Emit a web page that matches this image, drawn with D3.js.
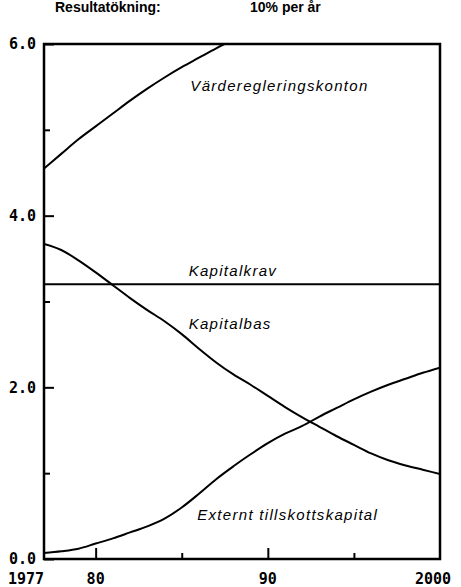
<!DOCTYPE html>
<html lang="sv">
<head>
<meta charset="UTF-8">
<title>Resultatökning 10% per år</title>
<script src="https://d3js.org/d3.v7.min.js"></script>
<style>
    body { margin: 0; background: #fff; }
    svg { display: block; }
</style>
</head>
<body>
<svg width="461" height="587"></svg>
<script>
    // Data (Mkr, 1977-2000)
    var years = d3.range(1977, 2001);
    var vardereglering = [4.55, 4.72, 4.89, 5.04, 5.19, 5.34, 5.48, 5.61, 5.73, 5.84, 5.95, 6.05];
    var kapitalkrav = [3.2, 3.2];
    var kapitalbas = [3.67, 3.60, 3.48, 3.34, 3.19, 3.04, 2.90, 2.77, 2.62, 2.45, 2.29, 2.15,
                      2.03, 1.90, 1.77, 1.65, 1.54, 1.43, 1.33, 1.23, 1.15, 1.09, 1.04, 0.99];
    var externt = [0.07, 0.09, 0.12, 0.18, 0.24, 0.31, 0.38, 0.47, 0.60, 0.76, 0.93, 1.08,
                   1.22, 1.35, 1.46, 1.55, 1.66, 1.76, 1.86, 1.95, 2.03, 2.10, 2.17, 2.23];
    var yMajor = [0, 2, 4, 6];
    var yMinor = [1, 3, 5];
    var xLong = [1980, 1990];
    var xShort = [1985, 1995];
    var xTickYears = [1977, 1980, 1990, 2000];
    var xTickLabels = ["1977", "80", "90", "2000"];

    var svg = d3.select("svg");
    // plot box (window.top is reserved, so not "top")
    var plotLeft = 44, plotRight = 440, plotTop = 44, plotBottom = 559;

    var x = d3.scaleLinear().domain([1977, 2000]).range([plotLeft, plotRight]);
    var y = d3.scaleLinear().domain([0, 6]).range([plotBottom, plotTop]);

    // header
    var head = svg.append("g")
        .style("font-family", "Liberation Sans, Arial, sans-serif")
        .style("font-weight", "bold")
        .style("font-size", "14px");
    head.append("text").attr("x", 55).attr("y", 12).text("Resultatökning:");
    head.append("text").attr("x", 250).attr("y", 12).text("10% per år");

    svg.append("clipPath").attr("id", "plot")
        .append("rect")
        .attr("x", plotLeft).attr("y", plotTop)
        .attr("width", plotRight - plotLeft).attr("height", plotBottom - plotTop);

    var line = d3.line()
        .x(function (d) { return x(d[0]); })
        .y(function (d) { return y(d[1]); })
        .curve(d3.curveMonotoneX);

    function pairs(vals, yrs) {
        return vals.map(function (v, i) { return [yrs[i], v]; });
    }

    var series = [
        pairs(vardereglering, years),
        pairs(kapitalkrav, [1977, 2000]),
        pairs(kapitalbas, years),
        pairs(externt, years)
    ];

    svg.append("g").attr("clip-path", "url(#plot)")
        .selectAll("path")
        .data(series)
        .enter().append("path")
        .attr("d", line)
        .attr("fill", "none")
        .attr("stroke", "#000")
        .attr("stroke-width", 2);

    // frame
    svg.append("rect")
        .attr("x", plotLeft).attr("y", plotTop)
        .attr("width", plotRight - plotLeft).attr("height", plotBottom - plotTop)
        .attr("fill", "none")
        .attr("stroke", "#000")
        .attr("stroke-width", 2.5);

    // y axis, ticks pointing inwards
    var yAxis = svg.append("g")
        .attr("transform", "translate(" + plotLeft + ",0)")
        .call(d3.axisLeft(y).tickValues(yMajor).tickSize(-10).tickSizeOuter(0)
            .tickPadding(8).tickFormat(d3.format(".1f")));
    svg.append("g")
        .attr("transform", "translate(" + plotLeft + ",0)")
        .call(d3.axisLeft(y).tickValues(yMinor).tickSize(-6).tickSizeOuter(0).tickFormat(""));

    // x axis ticks
    svg.append("g")
        .attr("transform", "translate(0," + plotBottom + ")")
        .call(d3.axisBottom(x).tickValues(xLong).tickSize(-11).tickSizeOuter(0).tickFormat(""));
    svg.append("g")
        .attr("transform", "translate(0," + plotBottom + ")")
        .call(d3.axisBottom(x).tickValues(xShort).tickSize(-6).tickSizeOuter(0).tickFormat(""));

    svg.selectAll(".domain").remove();
    svg.selectAll(".tick line").attr("stroke", "#000").attr("stroke-width", 2);

    yAxis.selectAll("text")
        .style("font-family", "DejaVu Sans Mono, monospace")
        .style("font-weight", "bold")
        .style("font-size", "15px")
        .attr("fill", "#000");

    // x tick labels
    svg.append("g")
        .selectAll("text")
        .data(xTickYears)
        .enter().append("text")
        .attr("x", function (d) { return x(d); })
        .attr("y", 584)
        .attr("text-anchor", function (d, i) { return i === 0 ? "end" : "middle"; })
        .attr("dx", function (d, i) { return i === xTickYears.length - 1 ? -7 : 0; })
        .style("font-family", "DejaVu Sans Mono, monospace")
        .style("font-weight", "bold")
        .style("font-size", "15px")
        .text(function (d, i) { return xTickLabels[i]; });

    // curve labels
    var labels = [
        { text: "Värderegleringskonton", year: 1985.5, value: 5.45 },
        { text: "Kapitalkrav", year: 1985.4, value: 3.3 },
        { text: "Kapitalbas", year: 1985.4, value: 2.68 },
        { text: "Externt tillskottskapital", year: 1985.9, value: 0.45 }
    ];
    svg.append("g")
        .selectAll("text")
        .data(labels)
        .enter().append("text")
        .attr("x", function (d) { return x(d.year); })
        .attr("y", function (d) { return y(d.value); })
        .style("font-family", "Liberation Sans, Arial, sans-serif")
        .style("font-style", "italic")
        .style("font-size", "15px")
        .style("letter-spacing", "1.3px")
        .text(function (d) { return d.text; });
</script>
</body>
</html>
